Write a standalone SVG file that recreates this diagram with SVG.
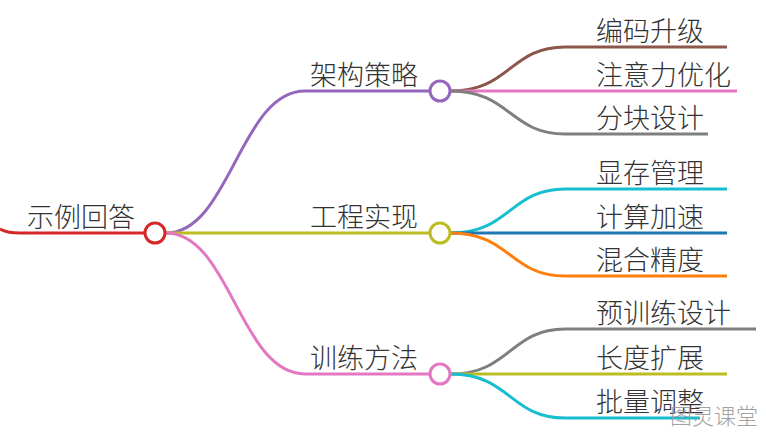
<svg xmlns="http://www.w3.org/2000/svg" width="766" height="435" viewBox="0 0 766 435">
<style>
text{font-family:"Noto Sans CJK SC",sans-serif;font-size:27px;font-weight:300;fill:#333}
.c{fill:none;stroke-width:3}
circle{fill:#fff;stroke-width:3}
</style>
<rect width="766" height="435" fill="#fff"/>
<g id="connectors">
<path class="c" stroke="#d62728" d="M0,229 Q8,233 20,233 L144,233"/>
<path class="c" stroke="#9467bd" d="M166,233 C230,233 240,91 305,91 L429,91"/>
<path class="c" stroke="#bcbd22" d="M166,233 L429,233"/>
<path class="c" stroke="#e377c2" d="M166,233 C230,233 240,374 305,374 L429,374"/>
<path class="c" stroke="#8c564b" d="M451,91 C510,91 510,47 565,47 L727,47"/>
<path class="c" stroke="#e377c2" d="M451,91 L737,91"/>
<path class="c" stroke="#7f7f7f" d="M451,91 C510,91 510,134 565,134 L708,134"/>
<path class="c" stroke="#17becf" d="M451,233 C510,233 510,189 565,189 L727,189"/>
<path class="c" stroke="#1f77b4" d="M451,233 L727,233"/>
<path class="c" stroke="#ff7f0e" d="M451,233 C510,233 510,276 565,276 L727,276"/>
<path class="c" stroke="#7f7f7f" d="M451,374 C510,374 510,329 565,329 L756,329"/>
<path class="c" stroke="#bcbd22" d="M451,374 L727,374"/>
<path class="c" stroke="#17becf" d="M451,374 C510,374 510,418 565,418 L700,418"/>
</g>
<g id="root"><text x="27" y="227">示例回答</text><circle cx="155" cy="233" r="10" stroke="#d62728"/></g>
<g id="b1"><text x="310" y="85">架构策略</text><circle cx="440" cy="91" r="10" stroke="#9467bd"/></g>
<g id="b2"><text x="310" y="227">工程实现</text><circle cx="440" cy="233" r="10" stroke="#bcbd22"/></g>
<g id="b3"><text x="310" y="368">训练方法</text><circle cx="440" cy="374" r="10" stroke="#e377c2"/></g>
<g id="l1"><text x="596" y="41">编码升级</text></g>
<g id="l2"><text x="596" y="85">注意力优化</text></g>
<g id="l3"><text x="596" y="128">分块设计</text></g>
<g id="l4"><text x="596" y="183">显存管理</text></g>
<g id="l5"><text x="596" y="227">计算加速</text></g>
<g id="l6"><text x="596" y="270">混合精度</text></g>
<g id="l7"><text x="596" y="323">预训练设计</text></g>
<g id="l8"><text x="596" y="368">长度扩展</text></g>
<g id="l9"><text x="596" y="412">批量调整</text></g>
<text x="670" y="424" style="font-size:22px;fill:#999;opacity:0.9">图灵课堂</text>
</svg>
